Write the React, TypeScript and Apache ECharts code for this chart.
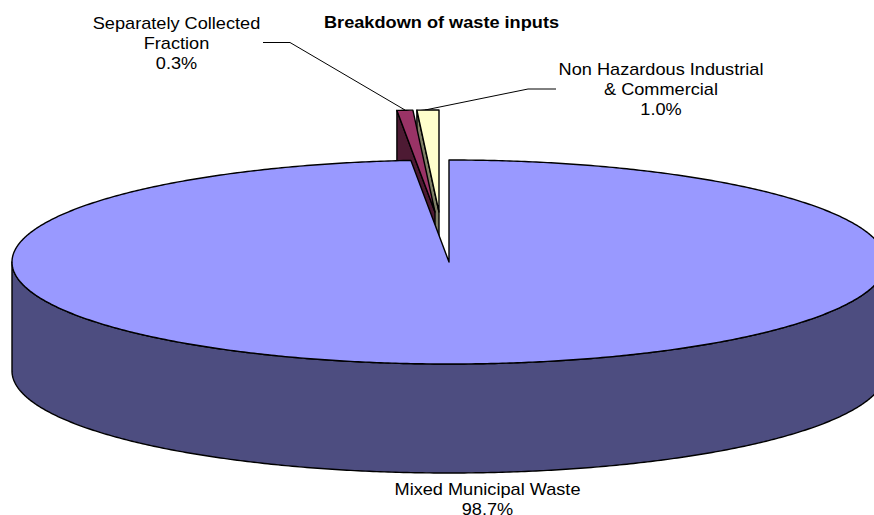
import React, { useEffect, useRef } from "react";
import * as echarts from "echarts";

// Slices, in the order they are painted (back to front)
const sliceLabels = [
  "Non Hazardous Industrial\n& Commercial\n1.0%",
  "Separately Collected\nFraction\n0.3%",
  "Mixed Municipal Waste\n98.7%",
];
// Angular extent of each wedge, degrees clockwise from 12 o'clock
const sliceStartDeg = [-2.9, -5, 0];
const sliceEndDeg = [0, -2.9, 355];
// Pull-out of each wedge from the pie centre
const sliceOffsetX = [-10, -14, 0];
const sliceOffsetY = [-50, -50, 0];
const topColors = ["#FFFFCC", "#993366", "#9999FF"];
const wallColors = ["#808066", "#4D1A33", "#4D4D80"];

const titleText = "Breakdown of waste inputs";
const FONT = '"Liberation Sans", Arial, sans-serif';
const TEXT_STRETCH = 1.135;

const CX = 449;
const CY = 262;
const RX = 437;
const RY = 102;
const DEPTH = 109;

function pt(cx: number, cy: number, deg: number): number[] {
  const t = (deg * Math.PI) / 180;
  return [cx + RX * Math.sin(t), cy - RY * Math.cos(t)];
}

function arc(cx: number, cy: number, a: number, b: number, dy = 0): number[][] {
  const n = Math.max(2, Math.ceil(Math.abs(b - a) * 2));
  const out: number[][] = [];
  for (let i = 0; i <= n; i++) {
    const p = pt(cx, cy, a + ((b - a) * i) / n);
    out.push([p[0], p[1] + dy]);
  }
  return out;
}

const edge = { stroke: "#000", lineWidth: 1.4, lineJoin: "round" as const };

function renderSlice(_params: any, api: any) {
  const i = api.value(0);
  const cx = CX + sliceOffsetX[i];
  const cy = CY + sliceOffsetY[i];
  const a = sliceStartDeg[i];
  const b = sliceEndDeg[i];
  const children: any[] = [];
  const polygon = (points: number[][], fill: string) =>
    children.push({ type: "polygon", shape: { points }, style: { ...edge, fill } });

  if (b > 90) {
    // big wedge: its front rim wall
    const upper = arc(cx, cy, 90, 270);
    const lower = arc(cx, cy, 270, 90, DEPTH);
    polygon([...upper, ...lower], wallColors[i]);
  } else {
    // small wedge: the wall below its left cut
    const o = pt(cx, cy, a);
    polygon(
      [o, [o[0], o[1] + DEPTH], [cx, cy + DEPTH], [cx, cy]],
      wallColors[i]
    );
  }
  polygon([[cx, cy], ...arc(cx, cy, a, b)], topColors[i]);
  return { type: "group", children };
}

const labelSpecs = [
  { x: 661, y: 90 },
  { x: 176.5, y: 44 },
  { x: 487.5, y: 499.5 },
];

const leaderLines = [
  [
    [556, 89],
    [528, 89],
    [425, 110],
  ],
  [
    [263, 42.5],
    [290, 42.5],
    [405, 110],
  ],
];

export default function App() {
  const ref = useRef<HTMLDivElement>(null);
  useEffect(() => {
    const chart = echarts.init(ref.current!, null, { renderer: "svg" });
    chart.setOption({
      animation: false,
      series: [
        {
          type: "custom",
          coordinateSystem: "none",
          silent: true,
          clip: false,
          data: sliceLabels.map((_, i) => [i]),
          renderItem: renderSlice,
        },
      ],
      graphic: [
        ...leaderLines.map((points) => ({
          type: "polyline",
          silent: true,
          shape: { points },
          style: { stroke: "#000", lineWidth: 1, fill: "none" },
        })),
        {
          type: "text",
          silent: true,
          x: 441.5,
          y: 23,
          scaleX: TEXT_STRETCH,
          style: {
            text: titleText,
            fill: "#000",
            font: `bold 16px ${FONT}`,
            align: "center",
            verticalAlign: "middle",
          },
        },
        ...sliceLabels.map((text, i) => ({
          type: "text",
          silent: true,
          x: labelSpecs[i].x,
          y: labelSpecs[i].y,
          scaleX: TEXT_STRETCH,
          style: {
            text,
            fill: "#000",
            font: `16px ${FONT}`,
            lineHeight: 20,
            align: "center",
            verticalAlign: "middle",
          },
        })),
      ],
    });
    return () => chart.dispose();
  }, []);
  return (
    <div
      ref={ref}
      style={{ position: "fixed", left: 0, top: 0, width: 874, height: 515, background: "#fff", overflow: "hidden" }}
    />
  );
}
